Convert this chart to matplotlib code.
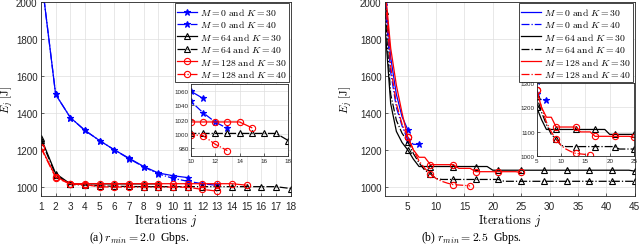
import matplotlib.pyplot as plt

plt.rcParams['mathtext.fontset'] = 'cm'
plt.rcParams['font.family'] = 'Liberation Sans'

# ---- (a) r_min = 2.0 Gbps
a_m0_k30 = [2150, 1500, 1375, 1305, 1250, 1200, 1155, 1110, 1075, 1060, 1050]
a_m0_k40 = [2150, 1500, 1375, 1305, 1250, 1200, 1152, 1108, 1070, 1046, 1030, 1017, 1008]
a_m64_k30 = [1265, 1072, 1016, 1016, 1016, 1016, 1016, 1016, 1016]
a_m64_k40 = [1255, 1065, 1013, 1010, 1005, 1003, 1002, 1001, 1001, 1001, 1001, 1001,
             1001, 1001, 1001, 1001, 1001, 991]
a_m128_k30 = [1215, 1055, 1017, 1017, 1017, 1017, 1017, 1017, 1017, 1017, 1017, 1017,
              1017, 1017, 1009]
a_m128_k40 = [1210, 1050, 1015, 1012, 1000, 999, 999, 999, 999, 999, 998, 986, 977]

# ---- (b) r_min = 2.5 Gbps
b_m0_k30 = [2060, 1700, 1500, 1380, 1310]
b_m0_k40 = [2000, 1620, 1430, 1330, 1255, 1230, 1230]
b_m64_k30 = [1865, 1450, 1300, 1240, 1200, 1150] + [1110] * 13 + [1090] * 25 + [1085]
b_m64_k40 = [1950, 1500, 1360, 1290, 1245, 1180, 1130, 1090, 1070, 1045] + [1040] * 11 + [1030] * 24
b_m128_k30 = [2080, 1750, 1550, 1400, 1270, 1200, 1160, 1160, 1120, 1120, 1120, 1120, 1120,
              1100, 1100, 1100, 1082, 1082, 1082, 1082, 1082, 1082, 1082, 1082, 1078]
b_m128_k40 = [2050, 1650, 1450, 1340, 1270, 1200, 1140, 1100, 1070, 1045, 1030, 1020, 1012,
              1010, 1008, 1005]

labels = [r'$M=0\ \mathrm{and}\ K=30$', r'$M=0\ \mathrm{and}\ K=40$',
          r'$M=64\ \mathrm{and}\ K=30$', r'$M=64\ \mathrm{and}\ K=40$',
          r'$M=128\ \mathrm{and}\ K=30$', r'$M=128\ \mathrm{and}\ K=40$']
styles = [('b', '-', '*'), ('b', '-.', '*'), ('k', '-', '^'), ('k', '-.', '^'),
          ('r', '-', 'o'), ('r', '-.', 'o')]
gray = (0.15, 0.15, 0.15)


def every4(n):
    idx = list(range(0, n, 4))
    if idx[-1] != n - 1:
        idx.append(n - 1)
    return idx


def draw(ax, series, sparse):
    for vals, (c, ls, mk), lab in zip(series, styles, labels):
        x = list(range(1, len(vals) + 1))
        ax.plot(x, vals, color=c, ls=ls, lw=0.9, marker=mk,
                markersize=5 if mk == '*' else 4.5,
                mfc=c if mk == '*' else 'none', mec=c, mew=0.8,
                markevery=every4(len(vals)) if sparse else None, label=lab)


def style(ax, fs):
    ax.grid(True, color=(0.87, 0.87, 0.87), lw=0.5)
    ax.set_axisbelow(True)
    ax.tick_params(direction='in', labelsize=fs, colors=gray, length=2.5, width=0.5)
    for s in ax.spines.values():
        s.set_color(gray)
        s.set_linewidth(0.6)


fig = plt.figure(figsize=(6.4, 2.53), dpi=100)
sa = [a_m0_k30, a_m0_k40, a_m64_k30, a_m64_k40, a_m128_k30, a_m128_k40]
sb = [b_m0_k30, b_m0_k40, b_m64_k30, b_m64_k40, b_m128_k30, b_m128_k40]

for k, (series, left, sparse) in enumerate([(sa, 0.064, False), (sb, 0.6016, True)]):
    ax = fig.add_axes([left, 0.221, 0.39, 0.767])
    draw(ax, series, sparse)
    style(ax, 7.2)
    ax.tick_params(axis='y', labelsize=7, pad=2.5)
    ax.set_ylim(950, 2000)
    ax.set_yticks(range(1000, 2001, 200))
    if k == 0:
        ax.set_xlim(1, 18)
        ax.set_xticks(range(1, 19))
    else:
        ax.set_xlim(1, 45)
        ax.set_xticks(range(5, 46, 5))
    ax.set_xlabel(r'$\mathrm{Iterations}\ j$', fontsize=9, labelpad=1)
    ax.set_ylabel(r'$E_j\ [\mathrm{J}]$', fontsize=8)
    ax.yaxis.set_label_coords(-0.098 if k == 0 else -0.12, 0.5)
    leg = ax.legend(loc='upper right', fontsize=7, labelspacing=0.15, handlelength=2.0,
                    handletextpad=0.3, borderpad=0.25, borderaxespad=0.15,
                    fancybox=False, edgecolor=gray, framealpha=1)
    leg.get_frame().set_linewidth(0.6)
    if sparse:
        for h in leg.legend_handles:
            h.set_marker('None')

# insets
axi = fig.add_axes([0.298, 0.381, 0.1525, 0.283])
draw(axi, sa, False)
style(axi, 4.5)
axi.set_xlim(10, 18)
axi.set_ylim(970, 1070)
axi.set_xticks(range(10, 19, 2))
axi.set_yticks(range(980, 1061, 20))
axi.tick_params(pad=1.5)

axj = fig.add_axes([0.8386, 0.378, 0.152, 0.29])
draw(axj, sb, True)
style(axj, 4.5)
axj.set_xlim(5, 25)
axj.set_ylim(1000, 1300)
axj.set_xticks(range(5, 26, 5))
axj.set_yticks(range(1000, 1301, 100))
axj.tick_params(pad=1.5)

fig.text(0.217, 0.06, r'(a) $r_{min} = 2.0$  Gbps.', ha='center', va='center',
         fontsize=8.5, family='Liberation Serif')
fig.text(0.736, 0.06, r'(b) $r_{min} = 2.5$  Gbps.', ha='center', va='center',
         fontsize=8.5, family='Liberation Serif')

fig.savefig('out.png', dpi=100)
